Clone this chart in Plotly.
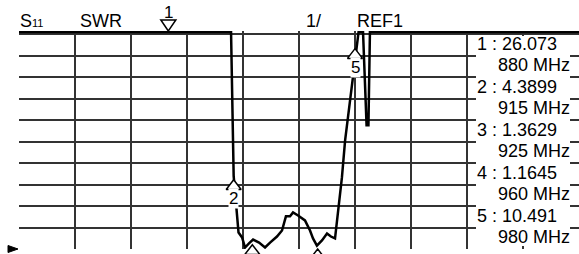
import plotly.graph_objects as go

# ---------------- data ----------------
freq_mhz = [800, 913.6, 915, 916.2, 917.6, 919.5, 921.1, 923.2, 925.4, 928.6, 931.8,
            934.5, 938.2, 940.9, 943.0, 945.2, 946.8, 949.5, 953.2, 955.9, 957.5,
            959.6, 962.3, 965.0, 967.1, 969.3, 970.9, 973.0, 974.7, 978.8, 980,
            981.9, 984.3, 986.2, 987.2, 988.0, 1100]
swr = [11.1, 11.1, 4.39, 3.03, 1.77, 1.54, 1.07, 1.26, 1.44, 1.30, 1.07,
       1.30, 1.58, 1.86, 2.52, 2.52, 2.70, 2.56, 2.33, 1.86, 1.49,
       1.16, 1.40, 1.72, 1.58, 1.49, 2.66, 4.33, 6.06, 8.86, 9.75,
       11.1, 11.1, 6.76, 6.76, 11.1, 11.1]

marker_ids = ["1", "2", "3", "4", "5"]
marker_freq = [880, 915, 925, 960, 980]
marker_swr = [26.073, 4.3899, 1.3629, 1.1645, 10.491]
marker_val_text = ["26.073", "4.3899", "1.3629", "1.1645", "10.491"]

header_texts = ["S<span style='font-size:11px'>11</span>", "SWR", "1/", "REF1"]
ref_level = 1

# ---------------- layout constants ----------------
W, H = 579, 254
ML, MR, MT, MB = 19, 0, 31, 5
PW, PH = W - ML - MR, H - MT - MB
XMIN, XMAX = 800, 1100
YMIN, YMAX = 1, 11.15
PX_PER_Y = PH / (YMAX - YMIN)
PX_PER_X = PW / (XMAX - XMIN)
FONT = "Arial, Liberation Sans, sans-serif"
TRI_SIZE = 13
TRI_GAP = 3.5


def xp(px):
    return (px - ML) / PW


def yp(py):
    return (H - MB - py) / PH


def f2px(f):
    return ML + (f - XMIN) * PX_PER_X


def v2px(v):
    return H - MB - (v - YMIN) * PX_PER_Y


fig = go.Figure()

# main trace
fig.add_trace(go.Scatter(x=freq_mhz, y=swr, mode="lines",
                         line=dict(color="black", width=2.5), hoverinfo="skip"))

# on-scale markers (hollow triangles pointing up at the trace)
on_f = [f for f, v in zip(marker_freq, marker_swr) if v <= YMAX]
on_v = [v for v in marker_swr if v <= YMAX]
fig.add_trace(go.Scatter(x=on_f, y=on_v, mode="markers", cliponaxis=False,
                         marker=dict(symbol="triangle-up", size=TRI_SIZE, color="white",
                                     standoff=TRI_SIZE / 2 + TRI_GAP,
                                     line=dict(color="black", width=1.5)),
                         hoverinfo="skip"))

shapes = []
# off-scale markers drawn above the graticule (downward hollow triangles)
for f, v in zip(marker_freq, marker_swr):
    if v > YMAX:
        cx = f2px(f)
        tip = MT
        path = (f"M {xp(cx)},{yp(tip)} L {xp(cx - 7.5)},{yp(tip - 11)} "
                f"L {xp(cx + 7.5)},{yp(tip - 11)} Z")
        shapes.append(dict(type="path", xref="paper", yref="paper", path=path,
                           fillcolor="white", line=dict(color="black", width=1.5),
                           layer="above"))

# reference level pointer (filled, pointing right)
ry = v2px(ref_level)
shapes.append(dict(type="path", xref="paper", yref="paper",
                   path=(f"M {xp(8)},{yp(ry - 3.5)} L {xp(18)},{yp(ry)} "
                         f"L {xp(8)},{yp(ry + 3.5)} Z"),
                   fillcolor="black", line=dict(color="black", width=1), layer="above"))

# white readout box
shapes.append(dict(type="rect", xref="paper", yref="paper", x0=xp(476), x1=xp(570),
                   y0=yp(246), y1=yp(36), fillcolor="white", line=dict(width=0),
                   layer="above"))

annotations = []
# marker labels (only those that fall on the canvas)
for mid, f, v in zip(marker_ids, marker_freq, marker_swr):
    if v > YMAX:
        annotations.append(dict(x=xp(f2px(f)), xref="paper", y=yp(12.5), yref="paper",
                                text=mid, showarrow=False,
                                font=dict(family=FONT, size=17, color="black"),
                                xanchor="center", yanchor="middle"))
    elif v2px(v) + 19 + TRI_GAP < H - 8:
        annotations.append(dict(x=f, xref="x", y=v, yref="y", text=mid,
                                yshift=-(19 + TRI_GAP),
                                showarrow=False, bgcolor="white", borderpad=0,
                                font=dict(family=FONT, size=17, color="black"),
                                xanchor="center", yanchor="middle"))

# header
header_x = [20, 80, 306, 357]
for t, x in zip(header_texts, header_x):
    annotations.append(dict(x=xp(x), xref="paper", y=yp(21), yref="paper", text=t,
                            showarrow=False, font=dict(family=FONT, size=18, color="black"),
                            xanchor="left", yanchor="middle", borderpad=0, borderwidth=0))

# marker readout rows
top_grid_px = v2px(11)
rows = []
for mid, f, t in zip(marker_ids, marker_freq, marker_val_text):
    rows.append((f"{mid} : {t}", "left"))
    rows.append((f"{f} MHz", "right"))
for i, (t, side) in enumerate(rows):
    cy = top_grid_px + (i + 0.5) * PX_PER_Y - 1
    annotations.append(dict(x=xp(477) if side == "left" else xp(570), xref="paper",
                            y=yp(cy), yref="paper", text=t, showarrow=False,
                            font=dict(family=FONT, size=18, color="black"),
                            xanchor=side, yanchor="middle", borderpad=0, borderwidth=0))

fig.update_layout(
    width=W, height=H,
    margin=dict(l=ML, r=MR, t=MT, b=MB, pad=0),
    paper_bgcolor="white", plot_bgcolor="white",
    showlegend=False,
    xaxis=dict(range=[XMIN, XMAX], tick0=XMIN, dtick=30, showticklabels=False,
               showgrid=True, gridcolor="#333", gridwidth=1.5, zeroline=False,
               ticks="", fixedrange=True),
    yaxis=dict(range=[YMIN, YMAX], tick0=1, dtick=1, showticklabels=False,
               showgrid=True, gridcolor="#333", gridwidth=1.5, zeroline=False,
               ticks="", fixedrange=True),
    shapes=shapes,
    annotations=annotations,
)

fig.write_html("out.html", config={"displayModeBar": False},
               post_script="document.body.style.margin='0';document.body.style.padding='0';")
